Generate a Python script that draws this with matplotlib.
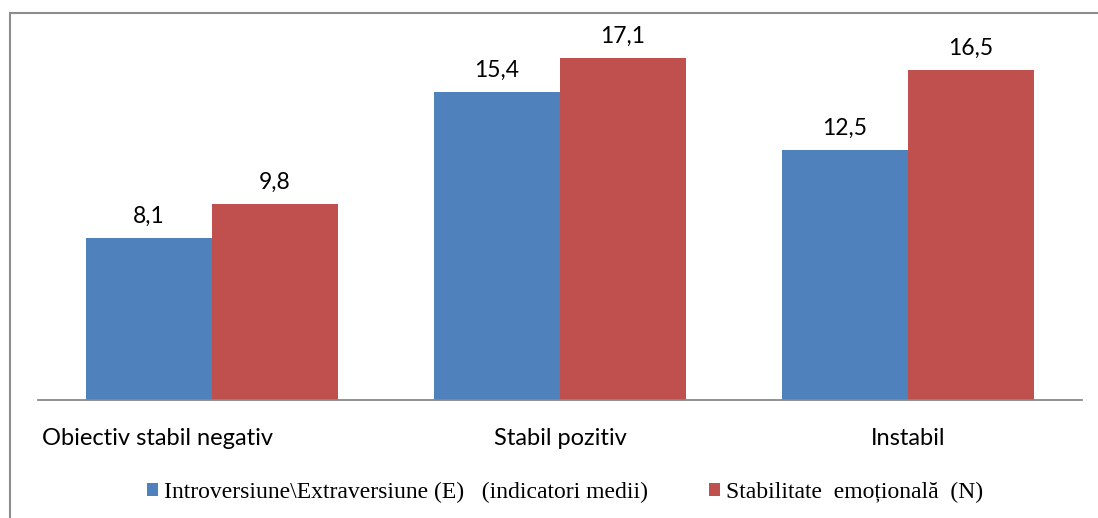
import numpy as np
import matplotlib
matplotlib.use("Agg")
import matplotlib.pyplot as plt
from matplotlib.patches import Rectangle, Patch

# Group labels and mean scores per series
categories = ["Obiectiv stabil negativ", "Stabil pozitiv", "Instabil"]
series_names = ["Introversiune\\Extraversiune (E)   (indicatori medii)",
                "Stabilitate  emoțională  (N)"]
extraversion = [8.1, 15.4, 12.5]
stability = [9.8, 17.1, 16.5]

BLUE = "#4F81BD"
RED = "#C0504D"
GRID_GREY = "#888888"

W, H = 1098, 518
fig = plt.figure(figsize=(W / 100, H / 100), dpi=100)

# plot area in pixel terms: x 38..1082, baseline at y=399
ax = fig.add_axes([38 / W, (H - 399.5) / H, (1082 - 38) / W, 379 / H])

x = np.arange(len(categories))
bw = 0.362
b1 = ax.bar(x - bw / 2, extraversion, bw, color=BLUE, label=series_names[0])
b2 = ax.bar(x + bw / 2, stability, bw, color=RED, label=series_names[1])

ax.set_xlim(-0.5, len(categories) - 0.5)
ax.set_ylim(0, 19)

for bars, vals in ((b1, extraversion), (b2, stability)):
    for rect, v in zip(bars, vals):
        ax.annotate(f"{v:.1f}".replace(".", ","),
                    xy=(rect.get_x() + rect.get_width() / 2, rect.get_height()),
                    xytext=(0, 8), textcoords="offset points",
                    ha="center", va="bottom", fontsize=16.5, family="Lato",
                    color="black")

for spine in ("top", "left", "right"):
    ax.spines[spine].set_visible(False)
ax.spines["bottom"].set_color(GRID_GREY)
ax.spines["bottom"].set_linewidth(1.3)
ax.set_xticks([])
ax.set_yticks([])

# category names under the axis; the first one sits flush left
for i, name in enumerate(categories):
    if i == 0:
        xpos, ha = -0.4885, "left"
    else:
        xpos, ha = i, "center"
    ax.annotate(name, xy=(xpos, 0), xycoords=("data", "axes fraction"),
                xytext=(0, -33), textcoords="offset points",
                ha=ha, va="baseline", fontsize=17, family="Lato", color="black")

handles = [Patch(facecolor=BLUE, edgecolor="none"),
           Patch(facecolor=RED, edgecolor="none")]
fig.legend(handles, series_names, loc="center", ncol=2, frameon=False,
           bbox_to_anchor=(565 / W, 1 - 492 / H),
           prop={"family": "Liberation Serif", "size": 17},
           handlelength=0.48, handleheight=0.48, handletextpad=0.25,
           columnspacing=2.6, borderpad=0)

# chart frame (left and top edges visible)
fig.patches.append(Rectangle((10 / W, -0.1), 1.2, 1.1 - 13 / H,
                             transform=fig.transFigure, fill=False,
                             edgecolor="#8C8C8C", linewidth=1.5))

fig.savefig("out.png", dpi=100)
